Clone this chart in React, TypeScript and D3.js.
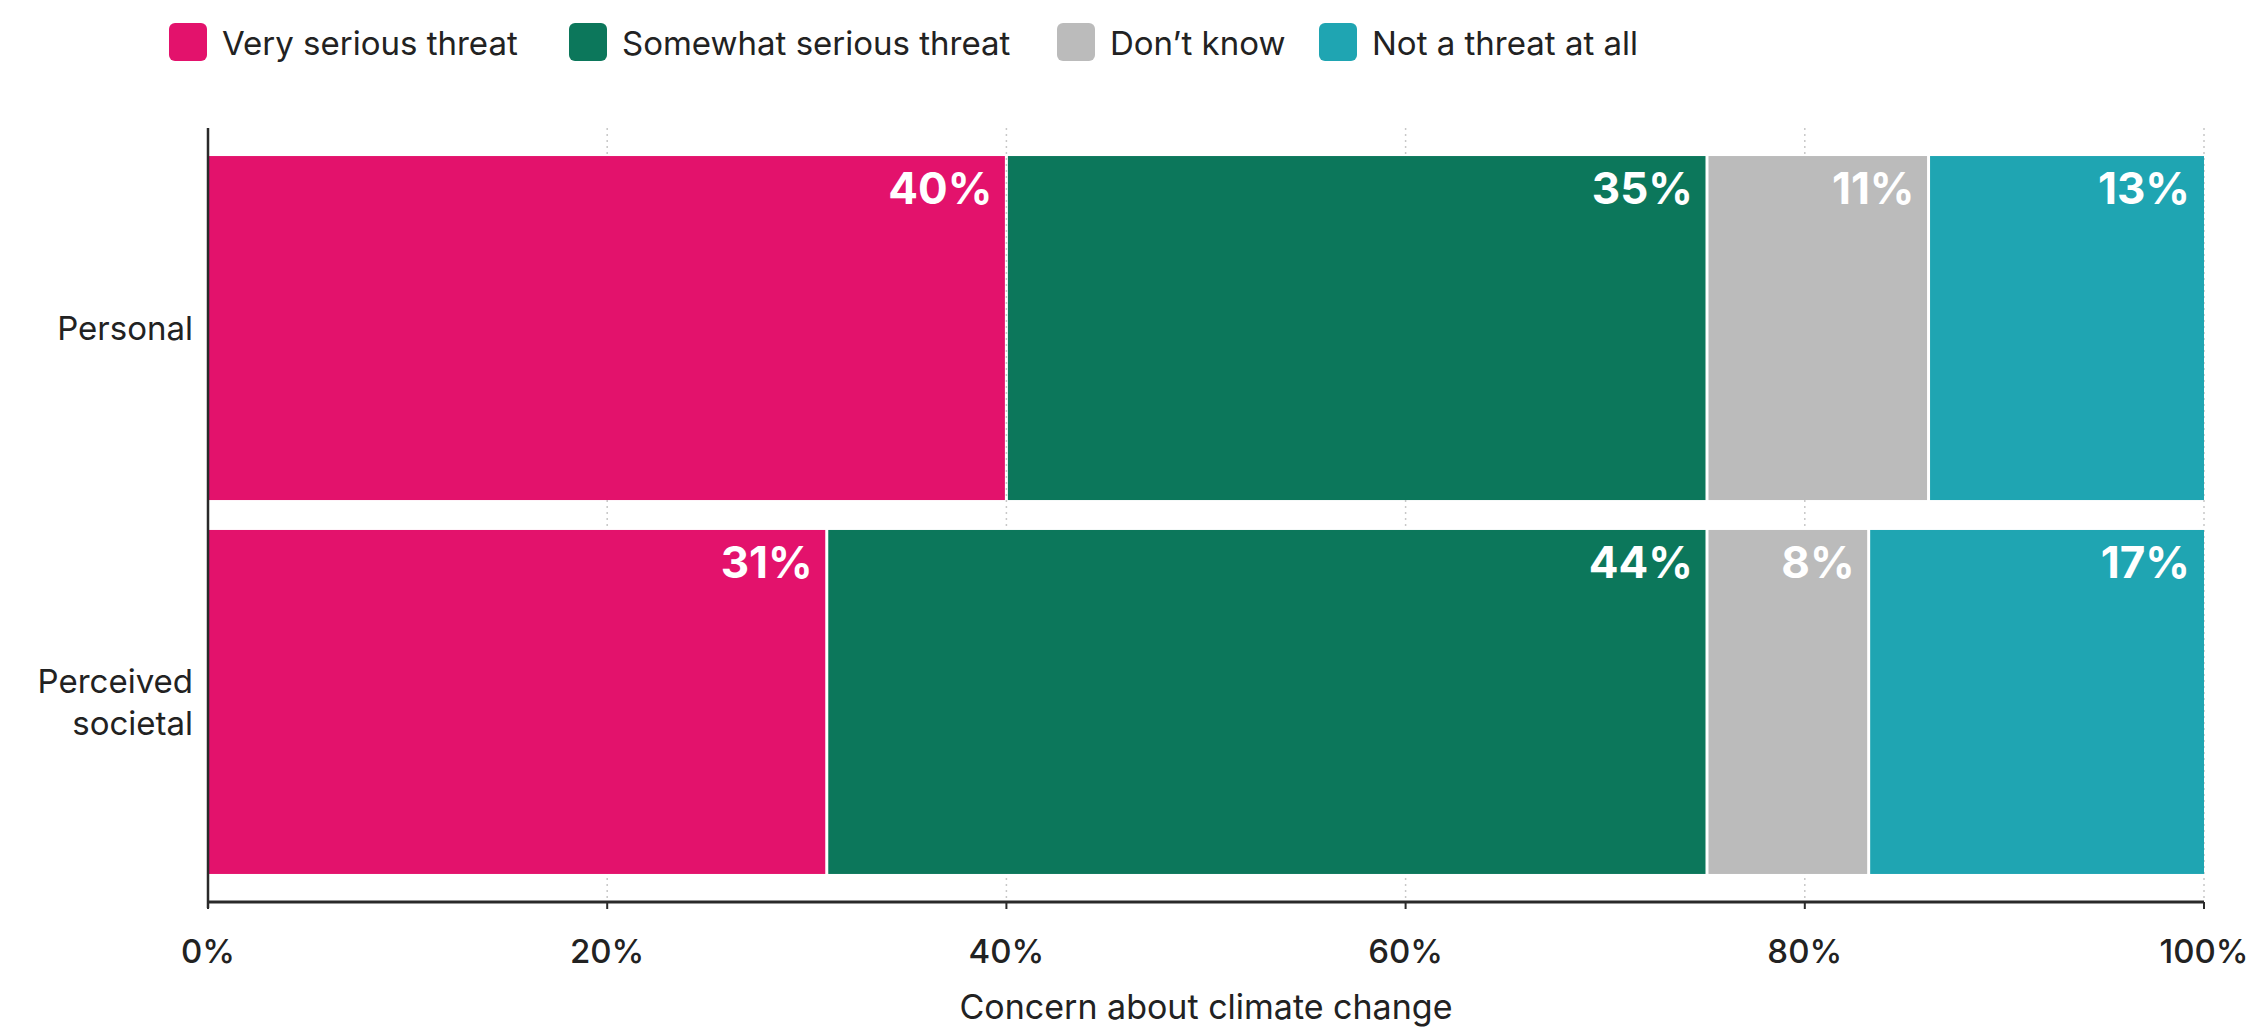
import React, { useEffect, useRef } from "react";
import * as d3 from "d3";

const categories = ["Personal", "Perceived societal"];
const categoryLines = [["Personal"], ["Perceived", "societal"]];
const seriesNames = ["Very serious threat", "Somewhat serious threat", "Don’t know", "Not a threat at all"];
const seriesColors = ["#E3126C", "#0C775B", "#BBBBBB", "#1FA5B2"];
const personalValues = [40.0, 35.1, 11.1, 13.8];
const societalValues = [31.0, 44.1, 8.1, 16.8];
const personalLabels = ["40%", "35%", "11%", "13%"];
const societalLabels = ["31%", "44%", "8%", "17%"];
const xTicks = [0, 20, 40, 60, 80, 100];
const xTitle = "Concern about climate change";

const W = 2249;
const H = 1032;
const FONT = "Inter, 'DejaVu Sans', sans-serif";

export default function App() {
  const ref = useRef<SVGSVGElement | null>(null);

  useEffect(() => {
    const svg = d3.select(ref.current);
    svg.selectAll("*").remove();

    const left = 208, right = 2204, top = 128, axisY = 902;
    const x = d3.scaleLinear().domain([0, 100]).range([left, right]);
    const y = d3.scaleBand<string>().domain(categories).range([top, axisY]).paddingInner(0.08).paddingOuter(0.075);

    const rows = [
      { cat: categories[0], lines: categoryLines[0], values: personalValues, labels: personalLabels },
      { cat: categories[1], lines: categoryLines[1], values: societalValues, labels: societalLabels },
    ];

    // gridlines
    svg.append("g").selectAll("line").data(xTicks.slice(1)).join("line")
      .attr("x1", d => x(d)).attr("x2", d => x(d))
      .attr("y1", top).attr("y2", axisY)
      .attr("stroke", "#c8c8c8").attr("stroke-width", 1.5).attr("stroke-dasharray", "2,4");

    // bars
    rows.forEach(row => {
      const stack: { x0: number; x1: number; i: number; label: string }[] = [];
      let acc = 0;
      row.values.forEach((v, i) => {
        stack.push({ x0: acc, x1: acc + v, i, label: row.labels[i] });
        acc += v;
      });
      const g = svg.append("g");
      const by = y(row.cat)!;
      const bh = y.bandwidth();
      g.selectAll("rect").data(stack).join("rect")
        .attr("x", d => x(d.x0) + (d.i > 0 ? 1.5 : 0))
        .attr("width", d => x(d.x1) - x(d.x0) - (d.i > 0 ? 1.5 : 0) - (d.i < stack.length - 1 ? 1.5 : 0))
        .attr("y", by).attr("height", bh)
        .attr("fill", d => seriesColors[d.i]);
      g.selectAll("text").data(stack).join("text")
        .attr("x", d => x(d.x1) - 14)
        .attr("y", by + 48)
        .attr("text-anchor", "end")
        .attr("fill", "#ffffff")
        .attr("font-family", FONT)
        .attr("font-weight", 700)
        .attr("font-size", 44)
        .text(d => d.label);

      // category label
      const t = svg.append("text")
        .attr("text-anchor", "end")
        .attr("font-family", FONT)
        .attr("font-size", 33)
        .attr("fill", "#222");
      const lh = 42;
      const cy = by + bh / 2;
      row.lines.forEach((ln, k) => {
        t.append("tspan")
          .attr("x", 193)
          .attr("y", cy + (k - (row.lines.length - 1) / 2) * lh)
          .attr("dy", "0.35em")
          .text(ln);
      });
    });

    // axes lines
    svg.append("line").attr("x1", left).attr("x2", left).attr("y1", top).attr("y2", axisY + 6)
      .attr("stroke", "#2a2a2a").attr("stroke-width", 2.5);
    svg.append("line").attr("x1", left).attr("x2", right).attr("y1", axisY).attr("y2", axisY)
      .attr("stroke", "#2a2a2a").attr("stroke-width", 3);
    svg.append("g").selectAll("line").data(xTicks).join("line")
      .attr("x1", d => x(d)).attr("x2", d => x(d))
      .attr("y1", axisY).attr("y2", axisY + 7)
      .attr("stroke", "#2a2a2a").attr("stroke-width", 2);
    svg.append("g").selectAll("text").data(xTicks).join("text")
      .attr("x", d => x(d)).attr("y", 951).attr("dy", "0.35em")
      .attr("text-anchor", "middle")
      .attr("font-family", FONT).attr("font-weight", 500).attr("font-size", 33)
      .attr("fill", "#222")
      .text(d => `${d}%`);
    svg.append("text")
      .attr("x", (left + right) / 2).attr("y", 1007).attr("dy", "0.35em")
      .attr("text-anchor", "middle")
      .attr("font-family", FONT).attr("font-size", 34).attr("fill", "#222")
      .text(xTitle);

    // legend
    const legendX = [169, 569, 1057, 1319];
    const lg = svg.append("g").selectAll("g").data(seriesNames).join("g")
      .attr("transform", (_d, i) => `translate(${legendX[i]},23)`);
    lg.append("rect").attr("width", 38).attr("height", 38).attr("rx", 6)
      .attr("fill", (_d, i) => seriesColors[i]);
    lg.append("text").attr("x", 53).attr("y", 20).attr("dy", "0.35em")
      .attr("font-family", FONT).attr("font-size", 33).attr("fill", "#222")
      .text(d => d);
  }, []);

  return (
    <div style={{ position: "absolute", left: 0, top: 0, background: "#fff" }}>
      <svg ref={ref} width={W} height={H} style={{ display: "block" }} />
    </div>
  );
}
